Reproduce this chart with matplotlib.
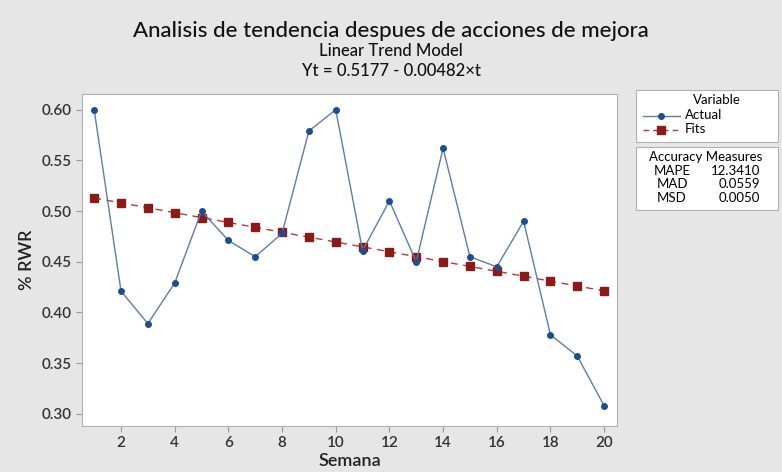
import numpy as np
import matplotlib.pyplot as plt
from matplotlib.patches import Rectangle
from matplotlib.lines import Line2D

plt.rcParams['font.family'] = ['Lato', 'DejaVu Sans']

semana = list(range(1, 21))
actual = [0.600, 0.421, 0.389, 0.429, 0.500, 0.471, 0.455, 0.478, 0.579, 0.600,
          0.461, 0.510, 0.450, 0.562, 0.455, 0.445, 0.490, 0.378, 0.357, 0.308]
fits = [0.5129, 0.5081, 0.5033, 0.4984, 0.4936, 0.4888, 0.4840, 0.4791, 0.4743, 0.4695,
        0.4647, 0.4599, 0.4550, 0.4502, 0.4454, 0.4406, 0.4358, 0.4309, 0.4261, 0.4213]
measures = ['MAPE', 'MAD', 'MSD']
measure_vals = ['12.3410', '0.0559', '0.0050']

bg = '#e6e6e6'
fig = plt.figure(figsize=(7.82, 4.72), dpi=100, facecolor=bg)
ax = fig.add_axes([0.105, 0.0975, 0.684, 0.704])
ax.set_facecolor('white')

ax.plot(semana, fits, color='#b53a3a', lw=1, ls=(0, (5, 4)), marker='s',
        ms=6, mfc='#8b1a1a', mec='#8b1a1a', zorder=2)
ax.plot(semana, actual, color='#5a7fa8', lw=1, marker='o', ms=4,
        mfc='#1f4e8c', mec='#1f4e8c', zorder=3)

ax.set_xlim(0.55, 20.48)
ax.set_ylim(0.288, 0.6158)
ax.set_xticks(range(2, 21, 2))
ax.set_yticks([0.30, 0.35, 0.40, 0.45, 0.50, 0.55, 0.60])
ax.set_yticklabels([f'{v:.2f}' for v in ax.get_yticks()])
ax.tick_params(colors='#9a9a9a', labelcolor='#333333', labelsize=11, length=4)
for lab in ax.get_xticklabels() + ax.get_yticklabels():
    lab.set_fontweight('semibold')
for s in ax.spines.values():
    s.set_color('#b0b0b0')
ax.set_xlabel('Semana', fontsize=13, color='#222222', labelpad=2, fontweight='semibold')
ax.set_ylabel('% RWR', fontsize=13, color='#222222', labelpad=5, fontweight='semibold')

fig.text(0.5, 0.935, 'Analisis de tendencia despues de acciones de mejora',
         ha='center', va='center', fontsize=16, color='#111111', fontweight='medium')
fig.text(0.5, 0.893, 'Linear Trend Model', ha='center', va='center',
         fontsize=12, color='#111111', fontweight='medium')
fig.text(0.5, 0.850, 'Yt = 0.5177 - 0.00482×t', ha='center', va='center',
         fontsize=12, color='#111111', fontweight='medium')

# legend boxes, placed in pixel units of the 782x472 figure
W, H = 782, 472
def box(x0, y0, x1, y1):
    fig.add_artist(Rectangle((x0 / W, 1 - y1 / H), (x1 - x0) / W, (y1 - y0) / H,
                             transform=fig.transFigure, facecolor='white',
                             edgecolor='#b0b0b0', lw=0.8))

box(636, 90, 778, 142)
fig.text(717 / W, 1 - 100 / H, 'Variable', ha='center', va='center', fontsize=9.5)
fig.text(685 / W, 1 - 115 / H, 'Actual', ha='left', va='center', fontsize=9.5)
fig.text(685 / W, 1 - 129 / H, 'Fits', ha='left', va='center', fontsize=9.5)
fig.add_artist(Line2D([643 / W, 680 / W], [1 - 116 / H] * 2, color='#5a7fa8', lw=1,
                      transform=fig.transFigure))
fig.add_artist(Line2D([661 / W], [1 - 116 / H], marker='o', ms=4, color='#1f4e8c',
                      transform=fig.transFigure))
fig.add_artist(Line2D([643 / W, 680 / W], [1 - 130 / H] * 2, color='#b53a3a', lw=1,
                      ls=(0, (4, 3)), transform=fig.transFigure))
fig.add_artist(Line2D([661 / W], [1 - 130 / H], marker='s', ms=6, color='#8b1a1a',
                      transform=fig.transFigure))

box(636, 147, 778, 210)
fig.text(706 / W, 1 - 157 / H, 'Accuracy Measures', ha='center', va='center', fontsize=9.5)
for i, (m, v) in enumerate(zip(measures, measure_vals)):
    y = 1 - (171 + i * 13.5) / H
    fig.text(672 / W, y, m, ha='center', va='center', fontsize=9.5)
    fig.text(760 / W, y, v, ha='right', va='center', fontsize=9.5)

fig.savefig('out.png', dpi=100, facecolor=bg)
